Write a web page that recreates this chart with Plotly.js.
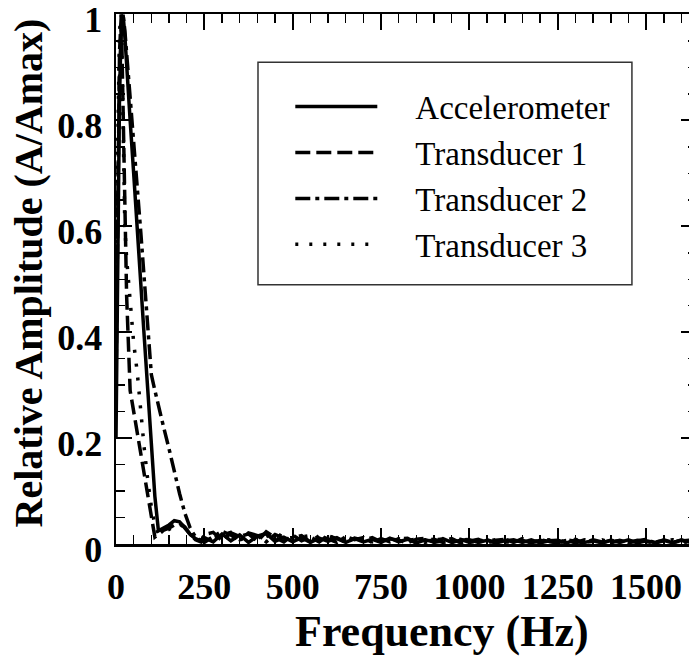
<!DOCTYPE html>
<html>
<head>
<meta charset="utf-8">
<script src="https://cdn.plot.ly/plotly-3.0.1.min.js"></script>
<style>
html, body { margin:0; padding:0; overflow:hidden; background:#fff; }
#chart { width:698px; height:659px; }
</style>
</head>
<body>
<div id="chart"></div>
<script>
// Frequency (Hz)
const freq = [0,5,10,15,20,25,30,40,50,60,70,80,90,100,110,120,135,150,165,180,195,210,225,240,
  250,275,300,325,350,375,400,425,450,475,
  500,525,550,575,600,625,650,675,700,725,
  750,775,800,825,850,875,900,925,950,975,
  1000,1025,1050,1075,1100,1125,1150,1175,1200,1225,
  1250,1275,1300,1325,1350,1375,1400,1425,1450,1475,
  1500,1525,1550,1575,1600,1625,1650];

const seriesNames = ["Accelerometer", "Transducer 1", "Transducer 2", "Transducer 3"];

const accelerometer = [0.20,0.55,0.85,0.98,1.00,0.96,0.90,0.80,0.70,0.59,0.49,0.39,0.29,0.19,0.09,0.025,0.03,0.036,0.044,0.042,0.03,0.018,0.010,0.006,
  0.012,0.004,0.019,0.006,0.017,0.003,0.015,0.020,0.005,0.013,
  0.004,0.012,0.003,0.011,0.005,0.012,0.003,0.010,0.004,0.009,
  0.003,0.011,0.004,0.009,0.002,0.008,0.004,0.010,0.003,0.007,
  0.008,0.003,0.007,0.002,0.006,0.008,0.003,0.008,0.002,0.006,
  0.007,0.002,0.008,0.003,0.006,0.002,0.007,0.003,0.008,0.002,
  0.006,0.003,0.007,0.002,0.008,0.003,0.006];

const transducer1 = [0.30,0.62,0.93,1.00,0.82,0.62,0.47,0.29,0.25,0.21,0.17,0.13,0.09,0.05,0.013,0.018,0.026,0.030,0.036,0.040,0.032,0.018,0.008,0.004,
  0.018,0.022,0.006,0.021,0.014,0.019,0.005,0.023,0.012,0.004,
  0.017,0.006,0.013,0.004,0.016,0.010,0.003,0.011,0.007,0.012,
  0.004,0.010,0.007,0.002,0.009,0.011,0.003,0.006,0.010,0.002,
  0.006,0.009,0.002,0.007,0.009,0.003,0.010,0.002,0.007,0.004,
  0.002,0.008,0.005,0.002,0.008,0.004,0.002,0.007,0.003,0.006,
  0.009,0.002,0.006,0.003,0.007,0.002,0.006];

const transducer2 = [0.42,0.70,0.88,0.97,1.00,0.97,0.93,0.84,0.76,0.67,0.59,0.50,0.41,0.32,0.29,0.26,0.22,0.18,0.135,0.095,0.058,0.030,0.013,0.006,
  0.003,0.014,0.024,0.017,0.006,0.021,0.016,0.004,0.018,0.011,
  0.012,0.016,0.004,0.016,0.009,0.003,0.014,0.008,0.012,0.003,
  0.010,0.004,0.009,0.011,0.002,0.008,0.009,0.003,0.006,0.009,
  0.003,0.005,0.008,0.002,0.009,0.004,0.007,0.002,0.008,0.005,
  0.003,0.007,0.002,0.008,0.004,0.002,0.007,0.005,0.002,0.007,
  0.004,0.002,0.008,0.003,0.006,0.007,0.002];

const transducer3 = [0.55,0.82,0.97,1.00,0.80,0.60,0.54,0.45,0.38,0.325,0.25,0.18,0.12,0.07,0.035,0.020,0.022,0.028,0.033,0.038,0.030,0.018,0.012,0.008,
  0.015,0.011,0.017,0.022,0.008,0.013,0.018,0.014,0.022,0.012,
  0.006,0.013,0.016,0.005,0.012,0.014,0.006,0.008,0.011,0.004,
  0.009,0.005,0.010,0.007,0.009,0.003,0.008,0.009,0.003,0.007,
  0.009,0.004,0.006,0.008,0.003,0.006,0.009,0.004,0.006,0.008,
  0.003,0.005,0.009,0.004,0.005,0.008,0.003,0.007,0.006,0.003,
  0.007,0.004,0.006,0.008,0.003,0.004,0.007];

const seriesValues = [accelerometer, transducer1, transducer2, transducer3];
const dashes = ["solid", "15px,6px", "15px,5px,4px,5px", "3px,11px"];
const legendGap = "\u00a0\u00a0\u00a0\u00a0";

const traces = seriesValues.map((vals, i) => ({
  type: "scatter",
  mode: "lines",
  name: legendGap + seriesNames[i],
  x: freq,
  y: vals,
  line: { color: "black", width: 3.5, dash: dashes[i] }
}));

const serif = "Liberation Serif, Times New Roman, serif";

const layout = {
  width: 698,
  height: 659,
  margin: { l: 116, r: 1, t: 14, b: 115, pad: 0 },
  paper_bgcolor: "white",
  plot_bgcolor: "white",
  showlegend: true,
  xaxis: {
    range: [0, 1644],
    tick0: 0, dtick: 250,
    ticks: "inside", ticklen: 16, tickwidth: 2, tickcolor: "black",
    showline: true, linewidth: 2.5, linecolor: "black", mirror: "allticks",
    showgrid: false, zeroline: false,
    tickfont: { family: serif, size: 36, color: "black", weight: "bold" },
    ticklabelstandoff: 9,
    ticklabeloverflow: "allow",
    minor: { tick0: 0, dtick: 50, ticks: "inside", ticklen: 9, tickwidth: 1.5, tickcolor: "black", showgrid: false }
  },
  yaxis: {
    range: [0, 1.001],
    tick0: 0, dtick: 0.2,
    ticks: "inside", ticklen: 16, tickwidth: 2, tickcolor: "black",
    showline: true, linewidth: 2.5, linecolor: "black", mirror: "allticks",
    showgrid: false, zeroline: false,
    tickfont: { family: serif, size: 36, color: "black", weight: "bold" },
    ticklabelstandoff: 4,
    ticklabelshift: 5,
    ticklabeloverflow: "allow",
    minor: { tick0: 0, dtick: 0.05, ticks: "inside", ticklen: 9, tickwidth: 1.5, tickcolor: "black", showgrid: false }
  },
  legend: {
    x: 0.30, y: 0.878, xanchor: "left", yanchor: "top",
    bgcolor: "rgba(0,0,0,0)", borderwidth: 0,
    font: { family: serif, size: 33, color: "black" },
    itemwidth: 82, tracegroupgap: 0
  },
  shapes: [{
    type: "rect", xref: "paper", yref: "paper",
    x0: 0.2444, x1: 0.888, y0: 0.489, y1: 0.909,
    line: { color: "#333", width: 1.5 }, fillcolor: "rgba(0,0,0,0)"
  }],
  annotations: [
    { text: "Frequency (Hz)", xref: "paper", yref: "paper", x: 0.561, y: -0.166,
      xanchor: "center", yanchor: "middle", showarrow: false,
      font: { family: serif, size: 44, color: "black", weight: "bold" } },
    { text: "Relative Amplitude (A/Amax)", xref: "paper", yref: "paper", x: -0.151, y: 0.511,
      xanchor: "center", yanchor: "middle", showarrow: false, textangle: -90,
      font: { family: serif, size: 40, color: "black", weight: "bold" } }
  ]
};

Plotly.newPlot("chart", traces, layout, { displayModeBar: false, staticPlot: true });
</script>
</body>
</html>
